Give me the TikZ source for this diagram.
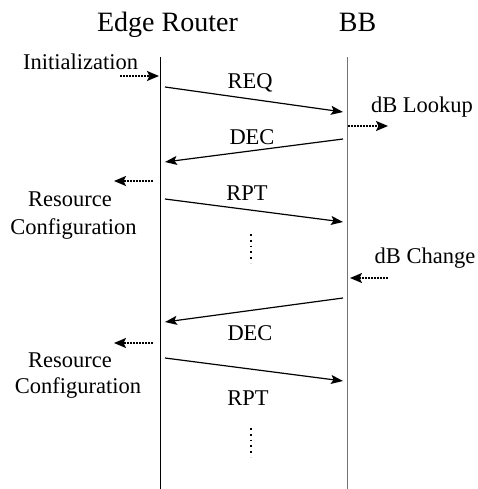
\documentclass[tikz,border=0pt]{standalone}
\usepackage{fontspec}
\setmainfont{Liberation Serif}
\usetikzlibrary{arrows.meta}
\begin{document}
\begin{tikzpicture}[x=1pt,y=-1pt,
  title/.style={anchor=base,inner sep=0pt,font=\fontsize{28}{32}\selectfont},
  lbl/.style={anchor=base,inner sep=0pt,font=\fontsize{22.5}{26}\selectfont},
  lifeline/.style={line width=0.9pt},
  msg/.style={line width=1.2pt,-{Stealth[length=12pt,width=9pt,inset=2.5pt]}},
  event/.style={line width=1.8pt,dash pattern=on 1.6pt off 1.4pt,-{Stealth[length=12pt,width=10pt,inset=2.5pt]}},
  gap/.style={line width=1.8pt,dash pattern=on 1.8pt off 4pt}]
\useasboundingbox (0,0) rectangle (477,489);
% titles
\node[title] (er) at (167.5,32) {Edge Router};
\node[title] (bb) at (357.5,32) {BB};
% lifelines
\coordinate (Ltop) at (160,57); \coordinate (Lbot) at (160,489);
\coordinate (Rtop) at (347,57); \coordinate (Rbot) at (347,489);
\draw[lifeline,black] (Ltop) -- (Lbot);
\draw[lifeline,black!55] (Rtop) -- (Rbot);
% labels
\node[lbl] (init) at (80.5,70) {Initialization};
\node[lbl] (req) at (250,89) {REQ};
\node[lbl] (lookup) at (422,113) {dB Lookup};
\node[lbl] (dec1) at (252,145) {DEC};
\node[lbl] (res1) at (70,206) {Resource};
\node[lbl] (conf1) at (73.5,234) {Configuration};
\node[lbl] (rpt1) at (247,200) {RPT};
\node[lbl] (change) at (425,263) {dB Change};
\node[lbl] (dec2) at (250,340) {DEC};
\node[lbl] (res2) at (70,367) {Resource};
\node[lbl] (conf2) at (78,393) {Configuration};
\node[lbl] (rpt2) at (248,405) {RPT};
% connector end points
\coordinate (i0) at (120,76);  \coordinate (i1) at (159,76);
\coordinate (q0) at (165,87);  \coordinate (q1) at (343,112);
\coordinate (l0) at (348,126); \coordinate (l1) at (388,126);
\coordinate (d0) at (343,139); \coordinate (d1) at (165,162);
\coordinate (c0) at (153,181); \coordinate (c1) at (114,181);
\coordinate (p0) at (165,199); \coordinate (p1) at (343,222);
\coordinate (v0) at (251,234); \coordinate (v1) at (251,263);
\coordinate (g0) at (388,278); \coordinate (g1) at (350,278);
\coordinate (e0) at (343,298); \coordinate (e1) at (165,322);
\coordinate (k0) at (153,343); \coordinate (k1) at (114,343);
\coordinate (s0) at (165,358); \coordinate (s1) at (343,381);
\coordinate (w0) at (251,428); \coordinate (w1) at (251,457);
% connectors
\draw[event] (i0) -- (i1);
\draw[msg] (q0) -- (q1);
\draw[event] (l0) -- (l1);
\draw[msg] (d0) -- (d1);
\draw[event] (c0) -- (c1);
\draw[msg] (p0) -- (p1);
\draw[gap] (v0) -- (v1);
\draw[event] (g0) -- (g1);
\draw[msg] (e0) -- (e1);
\draw[event] (k0) -- (k1);
\draw[msg] (s0) -- (s1);
\draw[gap] (w0) -- (w1);
\end{tikzpicture}
\end{document}
